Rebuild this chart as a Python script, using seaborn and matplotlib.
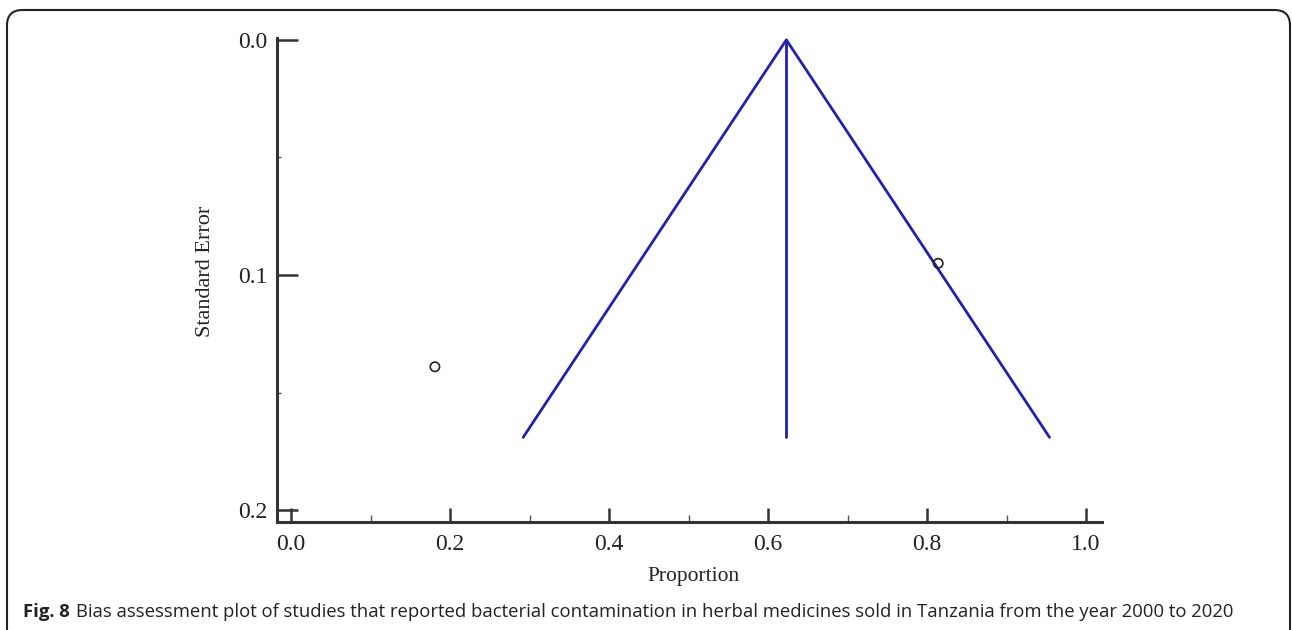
"""Funnel plot — bias assessment of studies (proportion vs standard error)"""

import matplotlib
matplotlib.use('Agg')
import matplotlib.pyplot as plt
from matplotlib.patches import FancyBboxPatch
from matplotlib.ticker import MultipleLocator
import pandas as pd
import seaborn as sns

# study estimates
study_prop = [0.181, 0.814]
study_se = [0.139, 0.095]

# funnel (pooled estimate and 95% limits at the largest SE)
funnel_x = [0.292, 0.623, 0.954]
funnel_y = [0.169, 0.0, 0.169]
pooled_x = [0.623, 0.623]
pooled_y = [0.0, 0.169]

x_ticks = [0.0, 0.2, 0.4, 0.6, 0.8, 1.0]
y_ticks = [0.0, 0.1, 0.2]

caption_bold = 'Fig. 8'
caption = ('Bias assessment plot of studies that reported bacterial contamination '
           'in herbal medicines sold in Tanzania from the year 2000 to 2020')

sns.set_theme(style='white')
plt.rcParams['font.family'] = ['Liberation Serif', 'DejaVu Serif']

fig = plt.figure(figsize=(12.92, 6.30), dpi=100)
ax = fig.add_axes([277/1292, 1-522/630, 825/1292, 484/630])

df = pd.DataFrame({'Proportion': study_prop, 'Standard Error': study_se})
funnel = pd.DataFrame({'x': funnel_x, 'y': funnel_y})
pooled = pd.DataFrame({'x': pooled_x, 'y': pooled_y})

blue = '#2020b2'
sns.lineplot(data=funnel, x='x', y='y', sort=False, color=blue, lw=2, ax=ax, estimator=None)
sns.lineplot(data=pooled, x='x', y='y', sort=False, color=blue, lw=2, ax=ax, estimator=None)
sns.scatterplot(data=df, x='Proportion', y='Standard Error', marker='o', s=45,
                facecolors='none', edgecolor='#222222', linewidth=1.2, ax=ax, zorder=5)

ax.set_xlim(-0.0176, 1.02)
ax.set_ylim(0.205, -0.0008)
ax.set_xticks(x_ticks)
ax.set_yticks(y_ticks)
ax.xaxis.set_minor_locator(MultipleLocator(0.1))
ax.yaxis.set_minor_locator(MultipleLocator(0.05))
ax.set_xticklabels([f'{v:.1f}' for v in x_ticks], fontsize=17, color='#222222')
ax.set_yticklabels([f'{v:.1f}' for v in y_ticks], fontsize=17, color='#222222')
ax.tick_params(axis='y', which='major', direction='in', length=15, width=1.8,
               colors='#333333', labelcolor='#222222', pad=7, left=True)
ax.tick_params(axis='y', which='minor', direction='in', length=3, width=1, colors='#555555', left=True)
ax.tick_params(axis='x', which='major', direction='in', length=10, width=1.8,
               colors='#333333', labelcolor='#222222', pad=9, bottom=True)
ax.tick_params(axis='x', which='minor', direction='in', length=5, width=1, colors='#555555', bottom=True)

for side in ['top', 'right']:
    ax.spines[side].set_visible(False)
for side in ['left', 'bottom']:
    ax.spines[side].set_color('#333333')
    ax.spines[side].set_linewidth(2.2)

ax.set_xlabel('Proportion', fontsize=15.5, color='#222222')
ax.set_ylabel('Standard Error', fontsize=16, color='#222222')
ax.xaxis.set_label_coords(0.505, -(577-522)/484)
ax.xaxis.label.set_va('center')
ax.yaxis.set_label_coords(-(277-205)/825, 0.517)
ax.yaxis.label.set_va('center')

# caption + rounded frame
t = fig.text(23/1292, 1-612/630, caption_bold, fontsize=13.3, fontweight='bold',
             family=['Open Sans', 'DejaVu Sans'], va='center', ha='left', color='#222222')
fig.canvas.draw()
bb = t.get_window_extent()
fig.text((bb.x1 + 6)/1292, 1-612/630, caption, fontsize=13.3,
         family=['Open Sans', 'DejaVu Sans'], va='center', ha='left', color='#222222')

frame = FancyBboxPatch((7/1292, -0.05), 1283/1292, 1-10/630+0.05,
                       boxstyle='round,pad=0,rounding_size=0.012',
                       transform=fig.transFigure, fill=False, ec='#222222', lw=1.5,
                       mutation_aspect=1292/630)
fig.patches.append(frame)

fig.savefig('out.png', dpi=100)
